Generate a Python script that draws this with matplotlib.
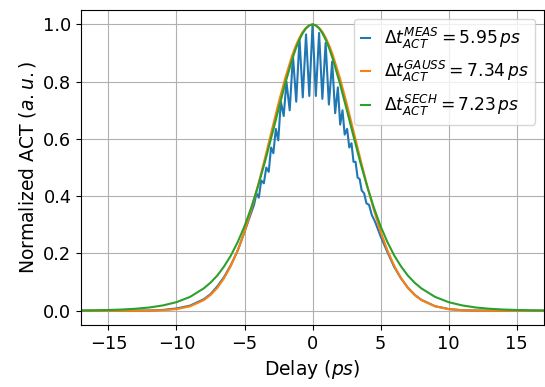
import numpy as np
import matplotlib
matplotlib.use("Agg")
import matplotlib.pyplot as plt

delay_meas = [-17, -14, -12, -11, -10, -9, -8, -7.5, -7, -6.5, -6, -5.5, -5, -4.6,
              -4.3, -4.12, -3.95, -3.77, -3.58, -3.4, -3.22, -3.05, -2.88, -2.7,
              -2.52, -2.33, -2.12, -1.92, -1.68, -1.44, -1.2, -0.96, -0.72, -0.48, -0.24, 0,
              0.24, 0.48, 0.72, 0.96, 1.2, 1.44, 1.66, 1.86, 2.03, 2.2, 2.36, 2.54,
              2.7, 2.86, 3.01, 3.16, 3.31, 3.46, 3.61, 3.79, 3.96, 4.15, 4.35,
              4.6, 5.0, 5.5, 6, 6.5, 7, 7.5, 8, 9, 10, 11, 12, 14, 17]
act_meas = [0.0, 0.0, 0.001, 0.003, 0.008, 0.018, 0.040, 0.058, 0.085, 0.118, 0.16, 0.21, 0.275, 0.33,
            0.37, 0.41, 0.395, 0.455, 0.445, 0.50, 0.485, 0.57, 0.55, 0.635,
            0.595, 0.73, 0.68, 0.80, 0.70, 0.89, 0.73, 0.95, 0.745, 0.965, 0.75, 1.0,
            0.75, 0.97, 0.74, 0.935, 0.72, 0.87, 0.69, 0.78, 0.65, 0.70, 0.615, 0.635,
            0.57, 0.585, 0.52, 0.52, 0.465, 0.46, 0.42, 0.41, 0.375, 0.37, 0.335,
            0.31, 0.26, 0.205, 0.153, 0.113, 0.081, 0.056, 0.038, 0.016, 0.006, 0.002, 0.001, 0.0, 0.0]

# fitted curves, positive half (symmetric)
delay_fit = [0, 0.25, 0.5, 0.75, 1, 1.25, 1.5, 2, 2.5, 3, 3.5, 4, 4.5, 5, 5.5, 6,
             6.5, 7, 7.5, 8, 9, 10, 11, 12, 13, 14, 15, 16, 17]
act_gauss = [1.0, 0.997, 0.987, 0.972, 0.950, 0.923, 0.891, 0.814, 0.725, 0.629, 0.532,
             0.439, 0.353, 0.276, 0.211, 0.157, 0.114, 0.080, 0.055, 0.037, 0.0155,
             0.0058, 0.002, 0.0006, 0.0002, 0.0, 0.0, 0.0, 0.0]
act_sech = [1.0, 0.996, 0.985, 0.967, 0.943, 0.913, 0.877, 0.795, 0.704, 0.611, 0.520,
            0.436, 0.361, 0.295, 0.240, 0.193, 0.155, 0.123, 0.098, 0.078, 0.0485,
            0.030, 0.0186, 0.0114, 0.0070, 0.0043, 0.0027, 0.0016, 0.0010]

labels = [r'$\Delta t_{ACT}^{MEAS} = 5.95\, ps$',
          r'$\Delta t_{ACT}^{GAUSS} = 7.34\, ps$',
          r'$\Delta t_{ACT}^{SECH} = 7.23\, ps$']

def mirror(x, y):
    x = np.asarray(x, float)
    y = np.asarray(y, float)
    return np.concatenate([-x[:0:-1], x]), np.concatenate([y[:0:-1], y])

plt.rcParams['font.size'] = 12

fig = plt.figure(figsize=(5.45, 3.87), dpi=100)
ax = fig.add_axes([0.149, 0.16, 0.849, 0.814])

ax.plot(delay_meas, act_meas, color='C0', lw=1.5, label=labels[0])
xg, yg = mirror(delay_fit, act_gauss)
ax.plot(xg, yg, color='C1', lw=1.5, label=labels[1])
xs, ys = mirror(delay_fit, act_sech)
ax.plot(xs, ys, color='C2', lw=1.5, label=labels[2])

ax.set_xlim(-17, 17)
ax.set_ylim(-0.05, 1.05)
ax.set_xticks([-15, -10, -5, 0, 5, 10, 15])
ax.set_yticks([0, 0.2, 0.4, 0.6, 0.8, 1.0])
ax.tick_params(labelsize=12.8)
ax.grid(True)
ax.set_xlabel(r'Delay $(ps)$', fontsize=13.5)
ax.set_ylabel(r'Normalized ACT $(a.u.)$', fontsize=13.5)
ax.legend(loc='upper right', handlelength=0.5, fontsize=12.3,
          borderaxespad=0.5)

fig.savefig('out.png', dpi=100)
